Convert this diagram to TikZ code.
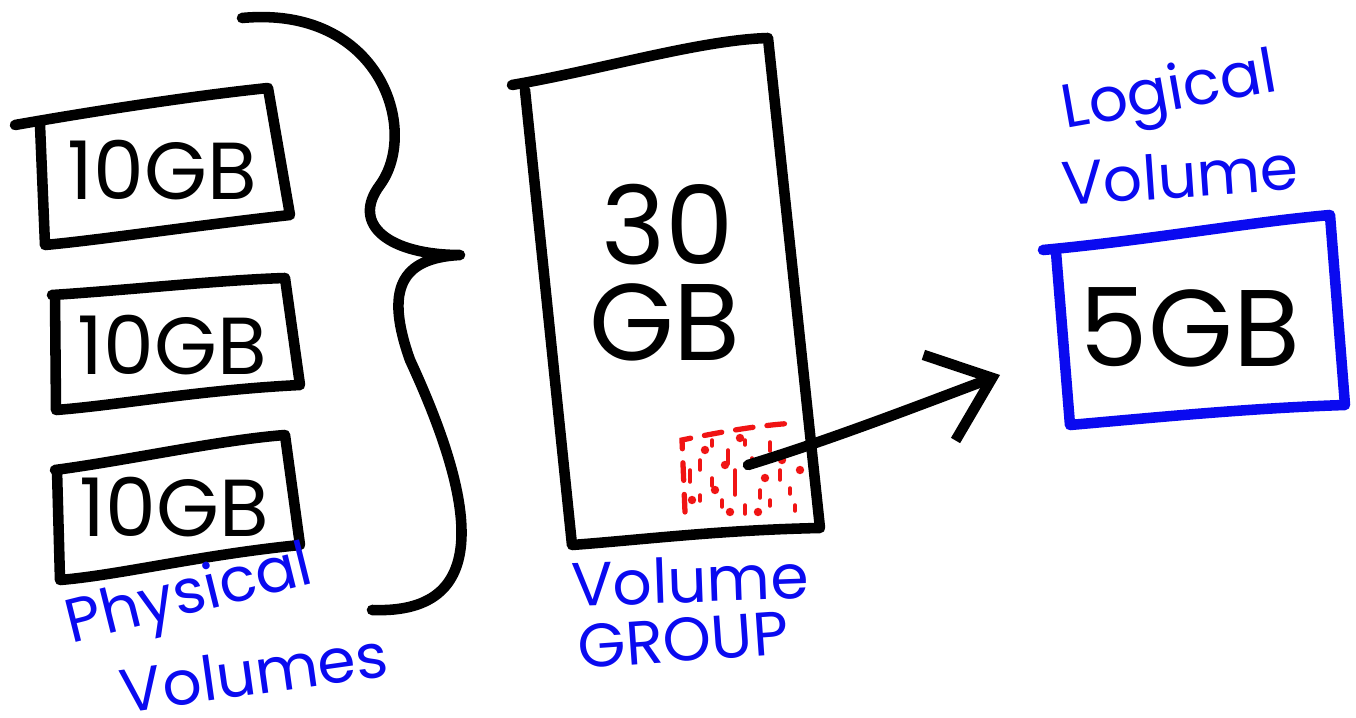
\documentclass[tikz,border=0pt]{standalone}
\usepackage{fontspec}
\setmainfont{Poppins}
\usetikzlibrary{arrows.meta}
\definecolor{pen}{RGB}{0,0,0}
\definecolor{bluepen}{RGB}{10,10,240}
\definecolor{redpen}{RGB}{240,20,20}
\tikzset{
  stroke/.style={draw=pen,line width=3pt,line cap=round,line join=round},
  bstroke/.style={draw=bluepen,line width=3pt,line cap=round,line join=round},
  sizetxt/.style={font=\fontsize{23}{23}\selectfont,text=pen},
  bigtxt/.style={font=\fontsize{31}{31}\selectfont,text=pen},
  lbl/.style={font=\fontsize{17.5}{17.5}\selectfont,text=bluepen,inner sep=1pt},
  speck/.style={draw=redpen,line width=1pt,line cap=round}
}
\begin{document}
\begin{tikzpicture}[x=0.01cm,y=-0.01cm]
\useasboundingbox (0,0) rectangle (1356,718);
% physical volume boxes
\draw[stroke] (15,125) .. controls (100,110) and (200,95) .. (268,88) -- (290,215) .. controls (200,225) and (100,240) .. (45,245) -- (40,125);
\node[sizetxt] (pv1) at (162,170) {10GB};
\draw[stroke] (52,295) .. controls (130,290) and (220,280) .. (285,278) -- (300,385) .. controls (200,390) and (120,405) .. (56,410) -- (55,295);
\node[sizetxt] (pv2) at (172,345) {10GB};
\draw[stroke] (55,470) .. controls (130,460) and (220,440) .. (285,435) -- (300,545) .. controls (200,555) and (120,575) .. (60,580) -- (57,470);
\node[sizetxt] (pv3) at (174,507) {10GB};
% brace
\draw[stroke] (242,18) .. controls (380,5) and (420,130) .. (380,185) .. controls (350,225) and (390,255) .. (460,255)
  .. controls (400,258) and (385,290) .. (410,360) .. controls (470,490) and (500,615) .. (372,610);
% volume group
\draw[stroke] (512,85) .. controls (600,70) and (700,40) .. (768,38) -- (820,528) .. controls (720,530) and (640,540) .. (572,545) -- (525,90);
\node[bigtxt] (vg30) at (668,225) {30};
\node[bigtxt] (vggb) at (665,322) {GB};
% red patch
\draw[redpen,line width=1.5pt,dash pattern=on 5pt off 4pt,line cap=round] (685,512) -- (682,440) .. controls (720,432) and (760,425) .. (796,423);
\foreach \x/\y/\l in {700/460/10,712/478/8,728/450/14,735/470/25,752/458/6,770/442/9,760/490/8,780/470/10,790/488/6,700/495/6,722/500/7,745/505/9,770/500/6,795/505/6,690/470/12,712/440/6,785/450/5,745/440/5}{
  \draw[speck] (\x,\y) -- ++(0,\l);
}
\foreach \x/\y in {705/450,740/438,765/478,782/460,715/490,730/512,758/512,692/500,800/470,725/465}{
  \fill[redpen] (\x,\y) circle (1.2pt);
}
\coordinate (patch) at (748,465);
% logical volume
\draw[bstroke] (1043,250) .. controls (1150,240) and (1250,222) .. (1330,215) -- (1345,405) .. controls (1250,408) and (1150,418) .. (1070,425) -- (1056,252);
\node[font=\fontsize{31}{31}\selectfont,text=pen] (lv) at (1190,327) {5GB};
\coordinate (tip) at (1000,375);
\draw[stroke,-{Straight Barb[length=16pt,width=26pt,line width=3pt]}] (patch) .. controls (830,440) and (920,405) .. (tip);
% labels
\node[lbl,rotate=10] (l1) at (1170,95) {Logical};
\node[lbl,rotate=4] (l2) at (1180,175) {Volume};
\node[lbl,rotate=14] (p1) at (190,598) {Physical};
\node[lbl,rotate=8] (p2) at (254,672) {Volumes};
\node[lbl,rotate=2] (g1) at (690,580) {Volume};
\node[lbl,rotate=4] (g2) at (683,640) {GROUP};
\end{tikzpicture}
\end{document}
